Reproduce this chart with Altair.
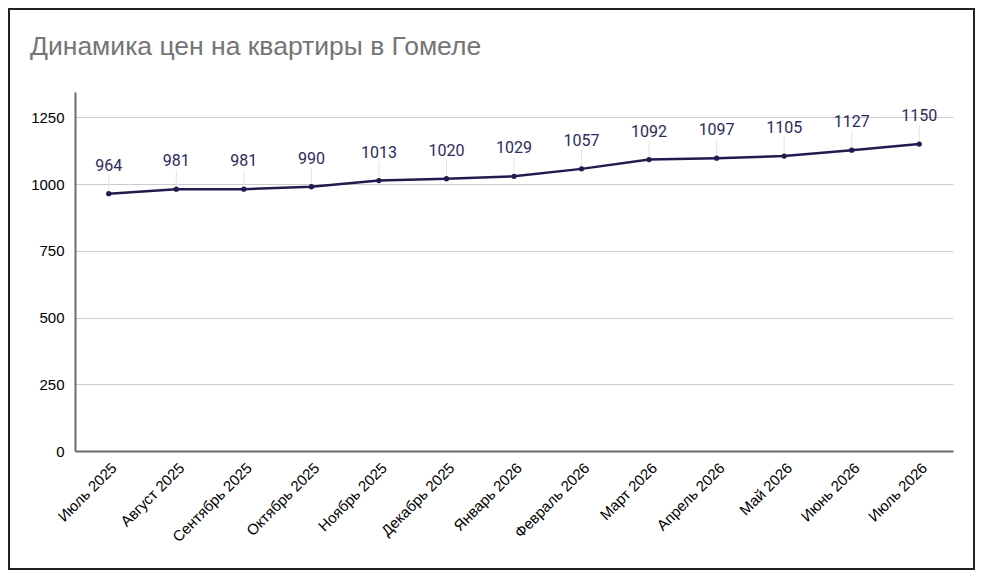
import altair as alt
import pandas as pd

months = ["Июль 2025", "Август 2025", "Сентябрь 2025", "Октябрь 2025", "Ноябрь 2025",
          "Декабрь 2025", "Январь 2026", "Февраль 2026", "Март 2026", "Апрель 2026",
          "Май 2026", "Июнь 2026", "Июль 2026"]
prices = [964, 981, 981, 990, 1013, 1020, 1029, 1057, 1092, 1097, 1105, 1127, 1150]
y_ticks = [0, 250, 500, 750, 1000, 1250]
title_text = ["Динамика цен на квартиры в Гомеле"]

df = pd.DataFrame({"month": months, "price": prices})

W, H = 878, 359
PL, PT, PR, PB = 67, 84, 22, 119

x_enc = alt.X("month:N", sort=months,
              scale=alt.Scale(type="point", padding=0.5),
              axis=alt.Axis(title=None, labelAngle=-45, labelAlign="right",
                            labelBaseline="top", labelOffset=0, labelPadding=9,
                            ticks=False, grid=False, labelFont="Liberation Sans",
                            labelFontSize=15, labelColor="#000000",
                            domainColor="#6b6b6b", domainWidth=2))
y_enc = alt.Y("price:Q", scale=alt.Scale(domain=[0, 1345], nice=False),
              axis=alt.Axis(title=None, values=y_ticks, format="d", ticks=False,
                            labelPadding=11, labelFont="Liberation Sans", labelFontSize=15,
                            labelColor="#000000", gridColor="#cccccc", gridWidth=1,
                            domainColor="#6b6b6b", domainWidth=2))

base = alt.Chart(df)

leaders = base.mark_rule(color="#e4e4e4", strokeWidth=1, y2Offset=-19).encode(
    x=x_enc, y=y_enc, y2="price:Q")

line = base.mark_line(color="#221b4f", strokeWidth=2.5).encode(x=x_enc, y=y_enc)

pts = base.mark_circle(color="#221b4f", opacity=1, size=28).encode(x=x_enc, y=y_enc)

labels = base.mark_text(dy=-23, baseline="alphabetic", font="Roboto", fontSize=16,
                        color="#2e2a5c").encode(x=x_enc, y=y_enc, text="price:Q")

title = alt.Chart(pd.DataFrame({"t": title_text})).mark_text(
    align="left", baseline="alphabetic", font="Liberation Sans", fontSize=26.5,
    color="#757575", clip=False).encode(
    x=alt.value(-45), y=alt.value(-37), text="t:N")

border = alt.Chart(pd.DataFrame({"a": [0]})).mark_rect(
    fill=None, stroke="#222222", strokeWidth=2, clip=False).encode(
    x=alt.value(-PL + 1), x2=alt.value(W + PR - 1),
    y=alt.value(-PT + 1), y2=alt.value(H + PB - 1))

chart = alt.layer(leaders, line, pts, labels, title, border).properties(
    width=W, height=H,
    autosize=alt.AutoSizeParams(type="none"),
    padding={"left": PL, "top": PT, "right": PR, "bottom": PB},
).configure_view(stroke=None)

chart.save("out.html", embed_options={"renderer": "svg", "actions": False})
